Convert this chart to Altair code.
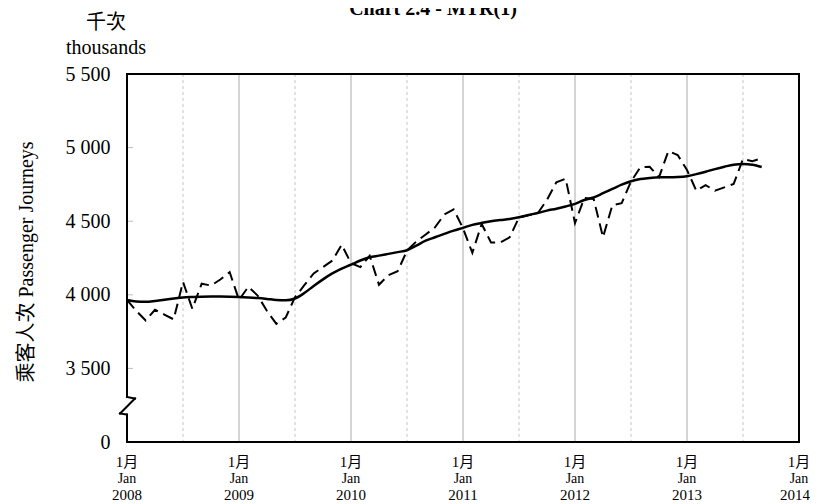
import altair as alt
import pandas as pd

# ---------------- data ----------------
years = [2008, 2009, 2010, 2011, 2012, 2013]
axis_years = [2008, 2009, 2010, 2011, 2012, 2013, 2014]

# monthly passenger journeys (thousands), Jan 2008 - Sep 2013
monthly_2008 = [3965, 3890, 3826, 3898, 3866, 3833, 4088, 3905, 4075, 4063, 4104, 4154]
monthly_2009 = [3965, 4055, 3995, 3890, 3803, 3845, 3984, 4065, 4145, 4188, 4232, 4340]
monthly_2010 = [4215, 4188, 4265, 4068, 4133, 4160, 4300, 4362, 4410, 4458, 4545, 4580]
monthly_2011 = [4452, 4285, 4481, 4355, 4355, 4391, 4525, 4540, 4553, 4645, 4764, 4789]
monthly_2012 = [4487, 4658, 4651, 4391, 4608, 4622, 4770, 4866, 4870, 4798, 4976, 4950]
monthly_2013 = [4848, 4707, 4745, 4707, 4730, 4753, 4922, 4908, 4928]

trend_2008 = [3965, 3955, 3952, 3958, 3967, 3975, 3982, 3985, 3987, 3988, 3988, 3987]
trend_2009 = [3985, 3982, 3978, 3972, 3965, 3963, 3975, 4012, 4060, 4105, 4145, 4178]
trend_2010 = [4205, 4233, 4255, 4266, 4278, 4290, 4303, 4334, 4368, 4391, 4414, 4436]
trend_2011 = [4455, 4475, 4488, 4500, 4508, 4515, 4527, 4542, 4556, 4572, 4585, 4600]
trend_2012 = [4618, 4644, 4662, 4690, 4719, 4748, 4771, 4786, 4793, 4798, 4798, 4800]
trend_2013 = [4806, 4820, 4836, 4854, 4870, 4884, 4888, 4884, 4868]

y_tick_values = [3500, 4000, 4500, 5000, 5500]
BREAK_BASE = 3000  # position of the "0" label under the axis break
Y_TOP = 5500

monthly = monthly_2008 + monthly_2009 + monthly_2010 + monthly_2011 + monthly_2012 + monthly_2013
trend = trend_2008 + trend_2009 + trend_2010 + trend_2011 + trend_2012 + trend_2013
n = len(monthly)
month_names = [f"{2008 + i // 12}-{i % 12 + 1:02d}" for i in range(n)]

df = pd.DataFrame({"idx": list(range(n)), "month": month_names,
                   "monthly": monthly, "trend": trend})
df_years = pd.DataFrame({"idx": [(y - 2008) * 12 for y in axis_years],
                         "year": [str(y) for y in axis_years]})
df_years_main = df_years.iloc[:-1]
df_years_last = df_years.iloc[-1:]
df_major = pd.DataFrame({"idx": [(y - 2008) * 12 for y in axis_years[1:-1]]})
df_minor = pd.DataFrame({"idx": [(y - 2008) * 12 + 6 for y in years]})
df_yt = pd.DataFrame({"v": y_tick_values[:-1]})

W, H = 672, 368
SERIF = "Liberation Serif, Noto Sans CJK TC"

xs = alt.Scale(domain=[0, 72], nice=False, zero=False)
ys = alt.Scale(domain=[BREAK_BASE, Y_TOP], nice=False, zero=False)
yaxis = alt.Axis(values=[BREAK_BASE] + y_tick_values, domain=False, ticks=False, grid=False,
                 labelFont=SERIF, labelFontSize=20, labelColor="black", labelPadding=17,
                 labelExpr=f"datum.value == {BREAK_BASE} ? '0' : substring(toString(datum.value),0,1) + ' ' + substring(toString(datum.value),1)",
                 title=None)


def X(field="idx:Q"):
    return alt.X(field, scale=xs, axis=None)


def Y(field):
    return alt.Y(field, scale=ys, axis=yaxis)


minor = alt.Chart(df_minor).mark_rule(color="#c4c4c4", strokeWidth=1, strokeDash=[3, 3]).encode(x=X())
major = alt.Chart(df_major).mark_rule(color="#ababab", strokeWidth=1).encode(x=X())
yt = alt.Chart(df_yt).mark_rule(color="#bdbdbd", strokeWidth=1).encode(
    y=Y("v:Q"), x=alt.value(0), x2=alt.value(6))

line_m = alt.Chart(df).mark_line(color="black", strokeWidth=2, strokeDash=[11, 6]).encode(
    x=X(), y=Y("monthly:Q"))
line_t = alt.Chart(df).mark_line(color="black", strokeWidth=2.5, interpolate="monotone").encode(
    x=X(), y=Y("trend:Q"))

one = alt.Data(values=[{"a": 1}])


def seg(x1, y1, x2, y2, w=2):
    return alt.Chart(one).mark_rule(color="black", strokeWidth=w, strokeCap="square").encode(
        x=alt.value(x1), y=alt.value(y1), x2=alt.value(x2), y2=alt.value(y2))


frame = [
    seg(0, 0, W, 0), seg(W, 0, W, H), seg(0, H, W, H),
    seg(0, 0, 0, 323), seg(0, 323, 8, 324.5), seg(8, 324.5, -7, 339.5),
    seg(-7, 339.5, 0, 340.5), seg(0, 340.5, 0, H),
]


def txt(s, x, y, size=20, weight="normal", angle=0):
    return alt.Chart(one).mark_text(text=s, font=SERIF, fontSize=size, fontWeight=weight,
                                    angle=angle, align="center", baseline="middle",
                                    color="black").encode(x=alt.value(x), y=alt.value(y))


texts = [
    alt.Chart(one).mark_text(text="Chart 2.4 - MTR(1)", font=SERIF, fontSize=20, fontWeight="bold",
                             align="center", baseline="alphabetic", color="black").encode(
        x=alt.value(306), y=alt.value(-59)),
    txt("千次", -21, -51),
    txt("thousands", -21, -26),
    txt("乘客人次 Passenger Journeys", -100, 188, angle=270),
]


def xlabels(d, dx=0):
    l1 = alt.Chart(d).mark_text(text="1月", font=SERIF, fontSize=15, color="black",
                                baseline="middle").encode(x=X(), y=alt.value(388))
    l2 = alt.Chart(d).mark_text(text="Jan", font=SERIF, fontSize=14, color="black",
                                baseline="middle").encode(x=X(), y=alt.value(405))
    l3 = alt.Chart(d).mark_text(font=SERIF, fontSize=15, color="black", dx=dx,
                                baseline="middle").encode(x=X(), y=alt.value(421), text="year:N")
    return [l1, l2, l3]


chart = alt.layer(minor, major, yt, line_m, line_t, *frame, *texts,
                  *xlabels(df_years_main), *xlabels(df_years_last, dx=-4)).properties(
    width=W, height=H,
    autosize=alt.AutoSizeParams(type="none"),
    padding={"left": 119, "top": 66, "right": 11, "bottom": 64},
).configure_view(stroke=None)

chart.save("out.html", embed_options={"renderer": "svg", "actions": False})
